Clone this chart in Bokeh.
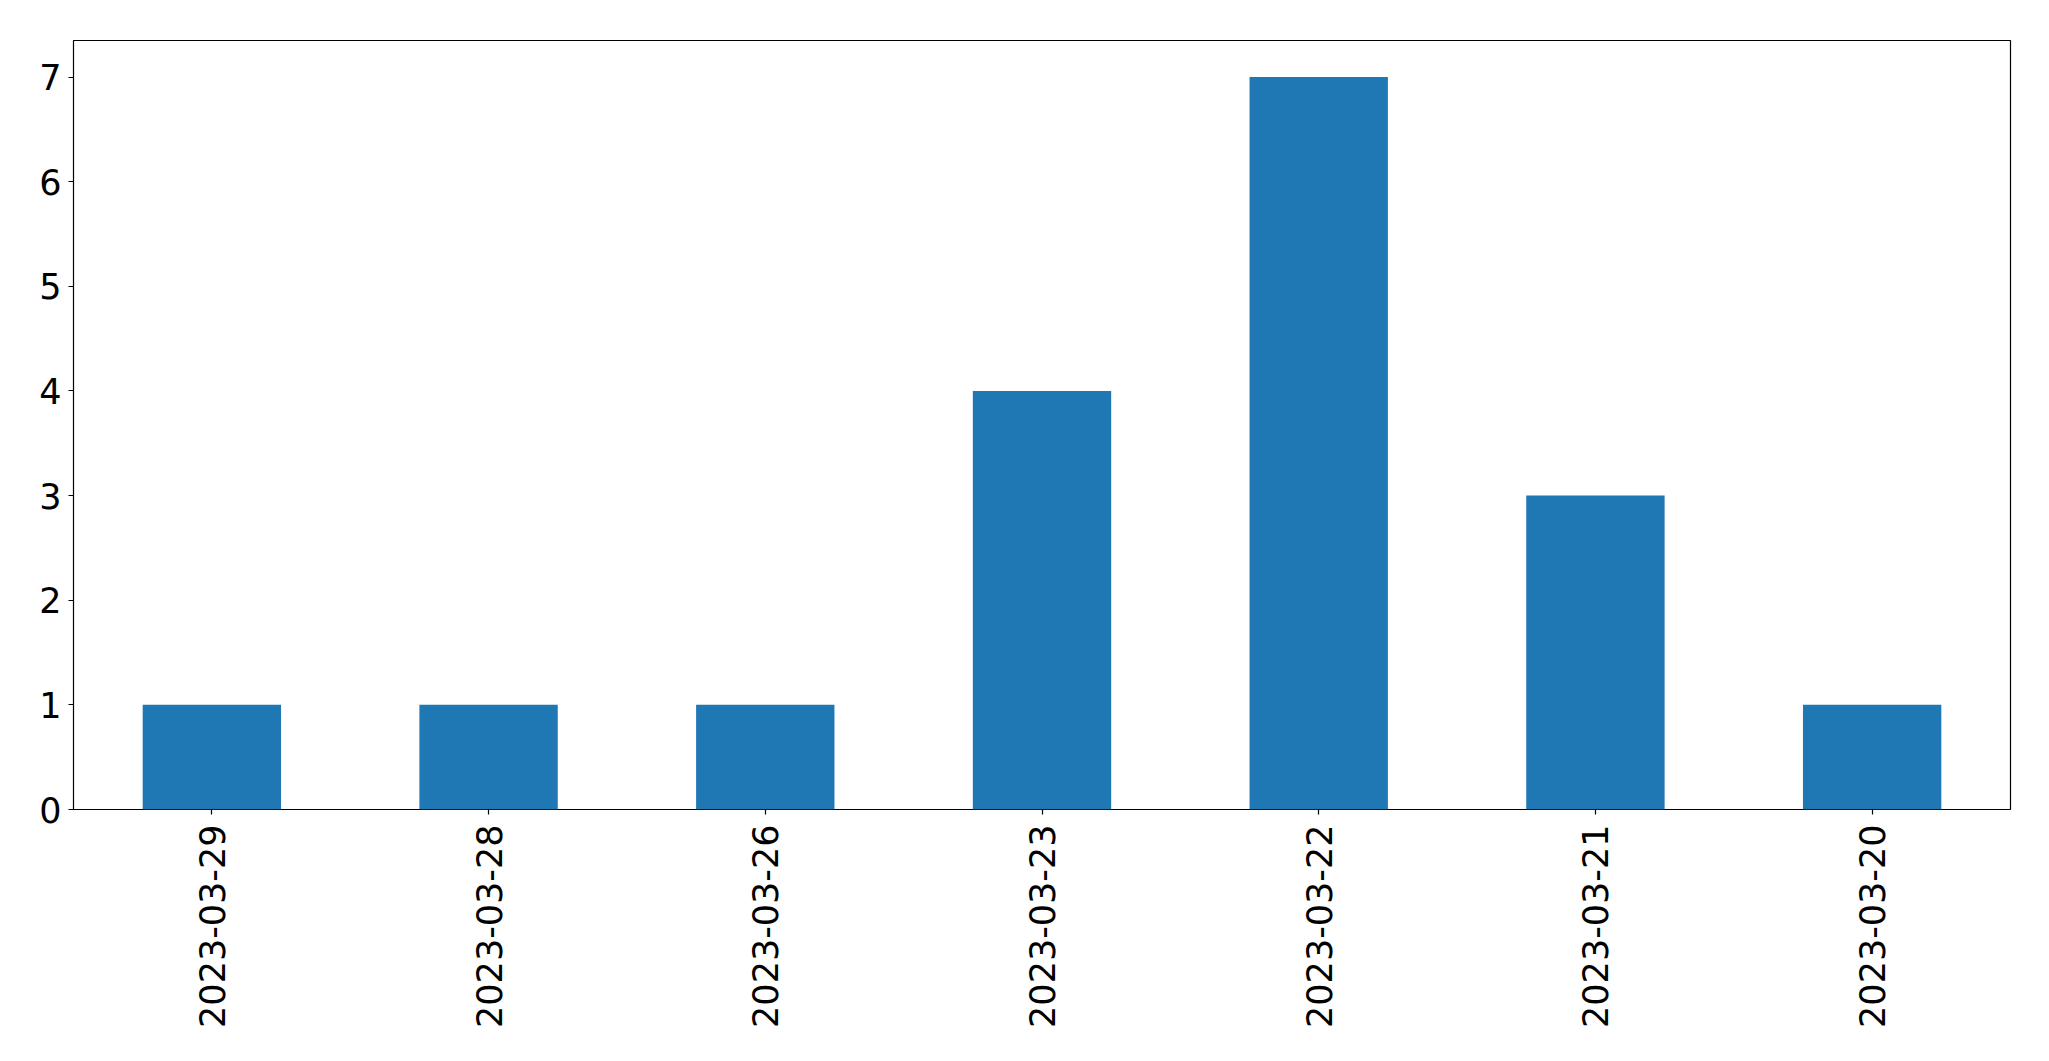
from bokeh.plotting import figure
from bokeh.models import FixedTicker, Range1d
from bokeh.embed import file_html
from bokeh.resources import INLINE
import math

dates = ["2023-03-29", "2023-03-28", "2023-03-26", "2023-03-23", "2023-03-22", "2023-03-21", "2023-03-20"]
counts = [1, 1, 1, 4, 7, 3, 1]
y_ticks = [0, 1, 2, 3, 4, 5, 6, 7]

p = figure(x_range=dates, y_range=Range1d(0, 7.35), width=2033, height=1040,
           output_backend="svg", toolbar_location=None,
           min_border_left=73, min_border_top=40, min_border_right=23, min_border_bottom=231)
p.x_range.range_padding = 0
p.vbar(x=dates, top=counts, width=0.5, color="#1f77b4", line_color=None)

p.xgrid.grid_line_color = None
p.ygrid.grid_line_color = None
p.outline_line_color = "black"
p.outline_line_width = 1.2
p.outline_line_alpha = 1

for ax in (p.xaxis[0], p.yaxis[0]):
    ax.axis_line_color = None
    ax.major_tick_in = 0
    ax.major_tick_out = 5
    ax.minor_tick_line_color = None
    ax.major_tick_line_color = "black"
    ax.major_tick_line_width = 1.2
    ax.major_label_text_font = "DejaVu Sans"
    ax.major_label_text_font_size = "35px"
    ax.major_label_text_color = "black"

p.xaxis[0].major_label_standoff = 10
p.yaxis[0].major_label_standoff = 7
p.yaxis[0].ticker = FixedTicker(ticks=y_ticks)
p.xaxis[0].major_label_orientation = math.pi / 2

open("out.html", "w").write(file_html(p, INLINE))
